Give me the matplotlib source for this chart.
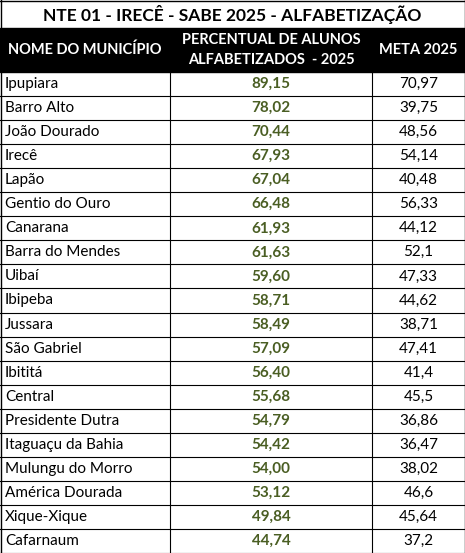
import matplotlib
matplotlib.use("Agg")
import matplotlib.pyplot as plt
from matplotlib.patches import Rectangle

title = "NTE 01 - IRECÊ - SABE 2025 - ALFABETIZAÇÃO"
headers = ["NOME DO MUNICÍPIO", "PERCENTUAL DE ALUNOS\nALFABETIZADOS  - 2025", "META 2025"]
municipios = ["Ipupiara", "Barro Alto", "João Dourado", "Irecê", "Lapão", "Gentio do Ouro",
              "Canarana", "Barra do Mendes", "Uibaí", "Ibipeba", "Jussara", "São Gabriel",
              "Ibititá", "Central", "Presidente Dutra", "Itaguaçu da Bahia", "Mulungu do Morro",
              "América Dourada", "Xique-Xique", "Cafarnaum"]
percentual = ["89,15", "78,02", "70,44", "67,93", "67,04", "66,48", "61,93", "61,63", "59,60",
              "58,71", "58,49", "57,09", "56,40", "55,68", "54,79", "54,42", "54,00", "53,12",
              "49,84", "44,74"]
meta = ["70,97", "39,75", "48,56", "54,14", "40,48", "56,33", "44,12", "52,1", "47,33", "44,62",
        "38,71", "47,41", "41,4", "45,5", "36,86", "36,47", "38,02", "46,6", "45,64", "37,2"]

plt.rcParams['font.family'] = ['Lato', 'DejaVu Sans']
W, H = 465, 553
fig = plt.figure(figsize=(W/100, H/100), dpi=100)
ax = fig.add_axes([0, 0, 1, 1])
ax.set_xlim(0, W); ax.set_ylim(H, 0); ax.axis('off')

c1, c2 = 170, 372
top_h, head_b = 28, 72
rh = (H - head_b) / len(municipios)
green = "#4a5e23"

ax.text(W/2, 15, title, ha='center', va='center', fontsize=12.5, fontweight='bold')
ax.add_patch(Rectangle((0, top_h), W, head_b-top_h, color='black'))
ax.text(c1/2, 50, headers[0], ha='center', va='center', color='white', fontsize=10.5, fontweight='bold')
ax.text((c1+c2)/2, 50, headers[1], ha='center', va='center', color='white', fontsize=10.5,
        fontweight='bold', linespacing=1.6)
ax.text((c2+W)/2, 50, headers[2], ha='center', va='center', color='white', fontsize=10.5, fontweight='bold')

for i, (m, p, t) in enumerate(zip(municipios, percentual, meta)):
    y0 = head_b + i*rh
    yc = y0 + rh/2
    ax.text(5, yc, m, ha='left', va='center', fontsize=11)
    ax.text((c1+c2)/2, yc, p, ha='center', va='center', fontsize=11, fontweight='bold', color=green)
    ax.text((c2+W)/2, yc, t, ha='center', va='center', fontsize=11)
    ax.plot([0, W], [y0+rh, y0+rh], color='black', lw=0.8)

ax.plot([0.5, 0.5], [0, H], color='black', lw=1)
ax.plot([W-0.5, W-0.5], [0, H], color='black', lw=1)
ax.plot([0, W], [0.5, 0.5], color='black', lw=1)
for x in (c1, c2):
    ax.plot([x, x], [head_b, H], color='black', lw=0.8)

fig.savefig("out.png", dpi=100)
